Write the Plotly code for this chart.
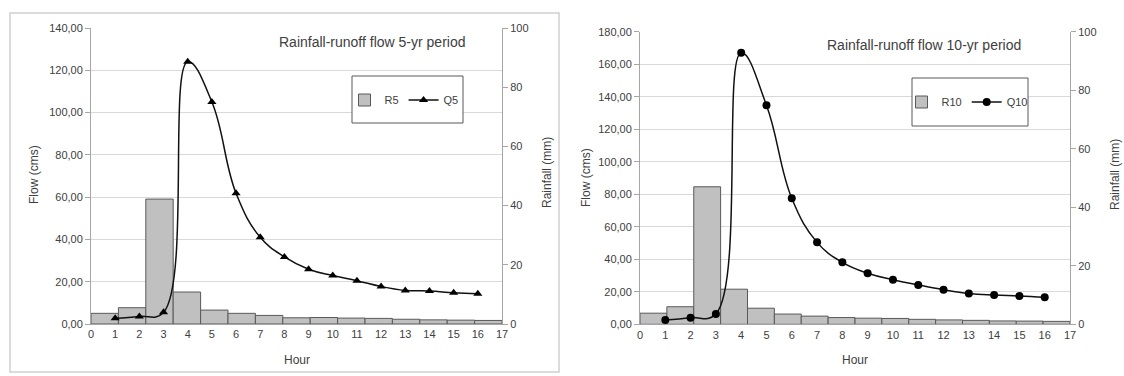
import plotly.graph_objects as go

# ---------------- data ----------------
hours = list(range(1, 17))
q5 = [2.7, 3.6, 5.5, 124.0, 105.0, 61.8, 41.0, 31.7, 25.9, 22.9, 20.5, 17.7, 15.9, 15.6, 14.8, 14.3]
r5 = [3.6, 5.5, 42.2, 10.8, 4.7, 3.6, 2.9, 2.1, 2.2, 2.0, 1.9, 1.6, 1.4, 1.3, 1.2]
q10 = [2.6, 4.1, 6.4, 167.0, 134.7, 77.5, 50.4, 38.1, 31.4, 27.4, 24.2, 21.3, 19.0, 18.0, 17.4, 16.6]
r10 = [3.8, 6.0, 47.0, 12.0, 5.5, 3.5, 2.8, 2.3, 2.1, 2.0, 1.7, 1.5, 1.35, 1.15, 1.1, 1.0]
r5_idx = list(range(1, len(r5) + 1))
r10_idx = list(range(1, len(r10) + 1))

hour_ticks = list(range(0, 18))
flow5_ticks = [0, 20, 40, 60, 80, 100, 120, 140]
flow5_text = ["0,00", "20,00", "40,00", "60,00", "80,00", "100,00", "120,00", "140,00"]
flow10_ticks = [0, 20, 40, 60, 80, 100, 120, 140, 160, 180]
flow10_text = ["0,00", "20,00", "40,00", "60,00", "80,00", "100,00", "120,00", "140,00", "160,00", "180,00"]
rain_ticks = [0, 20, 40, 60, 80, 100]

W, H = 1124, 376
FONT = "Liberation Sans, Arial, sans-serif"
TXT = "#404040"
GRID = "#d9d9d9"
AXL = "#a6a6a6"
BAR = "#c0c0c0"


def px(x):
    return x / W


def py(y):
    return 1 - y / H


fig = go.Figure()

# left chart
fig.add_trace(go.Bar(x=r5_idx, y=r5, name="R5", xaxis="x", yaxis="y", width=1,
                     marker=dict(color=BAR, line=dict(color="#595959", width=1)),
                     legend="legend"))
fig.add_trace(go.Scatter(x=hours, y=q5, name="Q5", xaxis="x3", yaxis="y3", mode="lines+markers",
                         line=dict(color="#111111", width=1.5, shape="spline", smoothing=1.2),
                         marker=dict(symbol="triangle-up", size=8, color="black"),
                         legend="legend"))
# right chart
fig.add_trace(go.Bar(x=r10_idx, y=r10, name="R10", xaxis="x2", yaxis="y2", width=1,
                     marker=dict(color=BAR, line=dict(color="#595959", width=1)),
                     legend="legend2"))
fig.add_trace(go.Scatter(x=hours, y=q10, name="Q10", xaxis="x4", yaxis="y4", mode="lines+markers",
                         line=dict(color="#111111", width=1.5, shape="spline", smoothing=1.2),
                         marker=dict(symbol="circle", size=8, color="black"),
                         legend="legend2"))

L_dom = [px(91), px(502)]
L_v = [py(324), py(28)]
R_dom = [px(640), px(1070)]
R_v = [py(324.3), py(31.7)]

tickfont = dict(family=FONT, size=11, color=TXT)
common = dict(automargin=False, zeroline=False, tickfont=tickfont)

fig.update_layout(
    width=W, height=H, margin=dict(l=0, r=0, t=0, b=0, pad=0), autosize=False,
    paper_bgcolor="white", plot_bgcolor="white",
    bargap=0, showlegend=True,
    font=dict(family=FONT, color=TXT),
    # left chart axes
    xaxis=dict(domain=L_dom, range=[0.5, len(r5) + 0.5], visible=False, anchor="y", **common),
    yaxis=dict(domain=L_v, range=[0, 100], side="right", anchor="x", showgrid=False,
               tickvals=rain_ticks, ticks="outside", ticklen=5, tickcolor=AXL,
               showline=True, linecolor=AXL, **common),
    xaxis3=dict(overlaying="x", range=[0, 17], anchor="y3", tickvals=hour_ticks,
                showline=True, linecolor=AXL, ticks="", showgrid=False, **common),
    yaxis3=dict(overlaying="y", range=[0, 140], side="left", anchor="x3",
                tickvals=flow5_ticks, ticktext=flow5_text, showgrid=True, gridcolor=GRID,
                ticks="outside", ticklen=5, tickcolor=AXL, showline=True, linecolor=AXL, **common),
    # right chart axes
    xaxis2=dict(domain=R_dom, range=[0.5, len(r10) + 0.5], visible=False, anchor="y2", **common),
    yaxis2=dict(domain=R_v, range=[0, 100], side="right", anchor="x2", showgrid=False,
                tickvals=rain_ticks, ticks="outside", ticklen=5, tickcolor=AXL,
                showline=True, linecolor=AXL, **common),
    xaxis4=dict(overlaying="x2", range=[0, 17], anchor="y4", tickvals=hour_ticks,
                showline=True, linecolor=AXL, ticks="", showgrid=False, **common),
    yaxis4=dict(overlaying="y2", range=[0, 180], side="left", anchor="x4",
                tickvals=flow10_ticks, ticktext=flow10_text, showgrid=True, gridcolor=GRID,
                ticks="outside", ticklen=5, tickcolor=AXL, showline=True, linecolor=AXL, **common),
    legend=dict(orientation="h", x=px(404), y=py(100), xanchor="center", yanchor="middle",
                bgcolor="rgba(0,0,0,0)", font=dict(family=FONT, size=11, color=TXT),
                itemwidth=30, tracegroupgap=0),
    legend2=dict(orientation="h", x=px(967), y=py(102), xanchor="center", yanchor="middle",
                 bgcolor="rgba(0,0,0,0)", font=dict(family=FONT, size=11, color=TXT),
                 itemwidth=30, tracegroupgap=0),
)

shapes = [
    dict(type="rect", xref="paper", yref="paper", x0=px(10), x1=px(559), y0=py(372), y1=py(13),
         line=dict(color="#d0d0d0", width=1.5), fillcolor="rgba(0,0,0,0)", layer="below"),
    dict(type="rect", xref="paper", yref="paper", x0=px(352), x1=px(463), y0=py(123), y1=py(76),
         line=dict(color="#595959", width=1), fillcolor="white", layer="above"),
    dict(type="rect", xref="paper", yref="paper", x0=px(912), x1=px(1028), y0=py(126), y1=py(78),
         line=dict(color="#595959", width=1), fillcolor="white", layer="above"),
]

annots = [
    dict(text="Rainfall-runoff flow 5-yr period", x=px(277), y=py(42), xanchor="left", yanchor="middle",
         font=dict(size=14)),
    dict(text="Rainfall-runoff flow 10-yr period", x=px(825), y=py(45), xanchor="left", yanchor="middle",
         font=dict(size=14)),
    dict(text="Flow (cms)", x=px(34), y=py(175), textangle=-90, xanchor="center", yanchor="middle",
         font=dict(size=12)),
    dict(text="Rainfall (mm)", x=px(547), y=py(173), textangle=-90, xanchor="center", yanchor="middle",
         font=dict(size=12)),
    dict(text="Hour", x=px(297), y=py(360), xanchor="center", yanchor="middle", font=dict(size=12)),
    dict(text="Flow (cms)", x=px(586), y=py(178), textangle=-90, xanchor="center", yanchor="middle",
         font=dict(size=12)),
    dict(text="Rainfall (mm)", x=px(1115), y=py(175), textangle=-90, xanchor="center", yanchor="middle",
         font=dict(size=12)),
    dict(text="Hour", x=px(855), y=py(360), xanchor="center", yanchor="middle", font=dict(size=12)),
]
for a in annots:
    a.update(xref="paper", yref="paper", showarrow=False)
    a["font"] = dict(family=FONT, color=TXT, size=a["font"]["size"])

fig.update_layout(shapes=shapes, annotations=annots)

# remove the default page margin so the 1124x376 figure fills the window exactly
fig.write_html("out.html", config={"staticPlot": True, "displayModeBar": False},
               post_script="document.body.style.margin='0';document.body.style.overflow='hidden';")
